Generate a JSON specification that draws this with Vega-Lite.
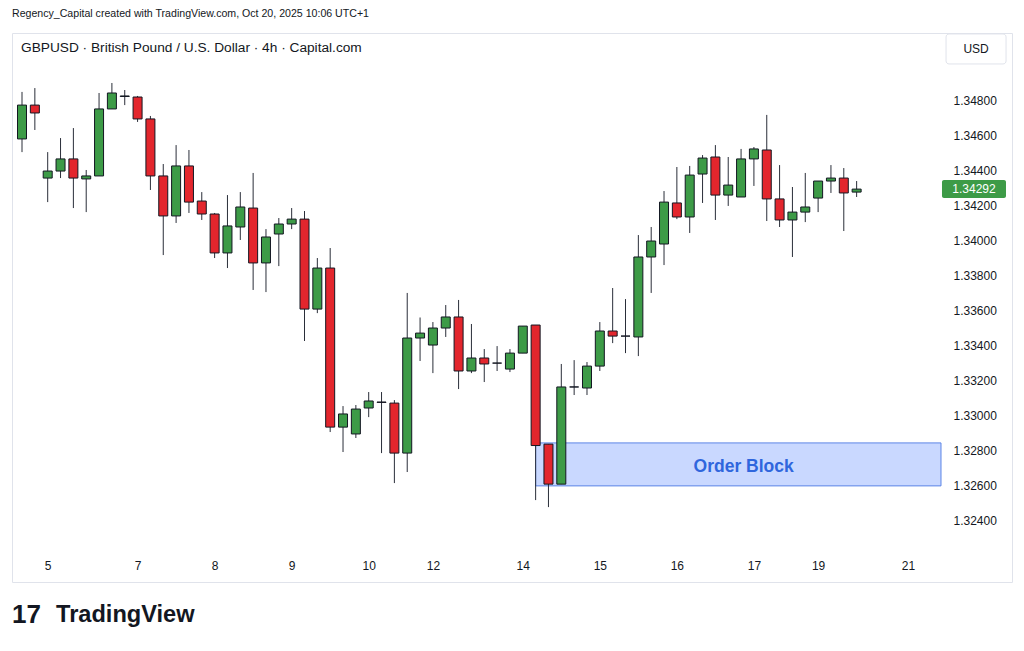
{
  "$schema": "https://vega.github.io/schema/vega-lite/v6.json",
  "width": 1000,
  "height": 549,
  "autosize": {"type": "none"},
  "padding": {"left": 12, "top": 33, "right": 12, "bottom": 69},
  "background": "#ffffff",
  "config": {
    "font": "Liberation Sans",
    "view": {"stroke": "#e0e3eb", "strokeWidth": 1},
    "axis": {"grid": false, "ticks": false, "domain": false, "labelColor": "#131722", "labelFont": "Liberation Sans", "labelFontSize": 12, "title": null}
  },
  "title": {
    "text": "Regency_Capital created with TradingView.com, Oct 20, 2025 10:06 UTC+1",
    "anchor": "start",
    "frame": "group",
    "font": "Liberation Sans",
    "fontSize": 10.6,
    "fontWeight": "normal",
    "color": "#131722",
    "offset": 13
  },
  "datasets": {
    "candles": [
      {"i":0,"o":1.34578,"h":1.34846,"l":1.34503,"c":1.34771},
      {"i":1,"o":1.34771,"h":1.34868,"l":1.34629,"c":1.34726},
      {"i":2,"o":1.34355,"h":1.34503,"l":1.34218,"c":1.34395},
      {"i":3,"o":1.34395,"h":1.34583,"l":1.34355,"c":1.34464},
      {"i":4,"o":1.34464,"h":1.34640,"l":1.34184,"c":1.34355},
      {"i":5,"o":1.34350,"h":1.34401,"l":1.34161,"c":1.34367},
      {"i":6,"o":1.34367,"h":1.34840,"l":1.34367,"c":1.34749},
      {"i":7,"o":1.34749,"h":1.34897,"l":1.34749,"c":1.34840},
      {"i":8,"o":1.34820,"h":1.34857,"l":1.34771,"c":1.34823},
      {"i":9,"o":1.34817,"h":1.34823,"l":1.34675,"c":1.34692},
      {"i":10,"o":1.34692,"h":1.34709,"l":1.34287,"c":1.34367},
      {"i":11,"o":1.34367,"h":1.34435,"l":1.33916,"c":1.34139},
      {"i":12,"o":1.34139,"h":1.34543,"l":1.34099,"c":1.34424},
      {"i":13,"o":1.34424,"h":1.34515,"l":1.34156,"c":1.34218},
      {"i":14,"o":1.34224,"h":1.34275,"l":1.34116,"c":1.34150},
      {"i":15,"o":1.34150,"h":1.34156,"l":1.33899,"c":1.33928},
      {"i":16,"o":1.33928,"h":1.34258,"l":1.33842,"c":1.34082},
      {"i":17,"o":1.34076,"h":1.34275,"l":1.34002,"c":1.34190},
      {"i":18,"o":1.34184,"h":1.34384,"l":1.33717,"c":1.33871},
      {"i":19,"o":1.33871,"h":1.34064,"l":1.33705,"c":1.34019},
      {"i":20,"o":1.34036,"h":1.34127,"l":1.33853,"c":1.34093},
      {"i":21,"o":1.34093,"h":1.34184,"l":1.34064,"c":1.34121},
      {"i":22,"o":1.34121,"h":1.34167,"l":1.33426,"c":1.33608},
      {"i":23,"o":1.33608,"h":1.33899,"l":1.33585,"c":1.33842},
      {"i":24,"o":1.33842,"h":1.33956,"l":1.32907,"c":1.32935},
      {"i":25,"o":1.32935,"h":1.33055,"l":1.32793,"c":1.33010},
      {"i":26,"o":1.32896,"h":1.33061,"l":1.32873,"c":1.33038},
      {"i":27,"o":1.33044,"h":1.33135,"l":1.32992,"c":1.33084},
      {"i":28,"o":1.33078,"h":1.33135,"l":1.32787,"c":1.33076},
      {"i":29,"o":1.33072,"h":1.33089,"l":1.32616,"c":1.32787},
      {"i":30,"o":1.32787,"h":1.33700,"l":1.32679,"c":1.33443},
      {"i":31,"o":1.33443,"h":1.33560,"l":1.33312,"c":1.33471},
      {"i":32,"o":1.33403,"h":1.33534,"l":1.33243,"c":1.33500},
      {"i":33,"o":1.33500,"h":1.33631,"l":1.33449,"c":1.33563},
      {"i":34,"o":1.33563,"h":1.33660,"l":1.33152,"c":1.33255},
      {"i":35,"o":1.33255,"h":1.33523,"l":1.33243,"c":1.33329},
      {"i":36,"o":1.33329,"h":1.33380,"l":1.33192,"c":1.33295},
      {"i":37,"o":1.33300,"h":1.33397,"l":1.33255,"c":1.33300},
      {"i":38,"o":1.33266,"h":1.33380,"l":1.33249,"c":1.33357},
      {"i":39,"o":1.33357,"h":1.33511,"l":1.33357,"c":1.33511},
      {"i":40,"o":1.33517,"h":1.33517,"l":1.32519,"c":1.32830},
      {"i":41,"o":1.32838,"h":1.32838,"l":1.32479,"c":1.32610},
      {"i":42,"o":1.32610,"h":1.33295,"l":1.32610,"c":1.33164},
      {"i":43,"o":1.33164,"h":1.33317,"l":1.33118,"c":1.33164},
      {"i":44,"o":1.33158,"h":1.33306,"l":1.33118,"c":1.33283},
      {"i":45,"o":1.33283,"h":1.33534,"l":1.33255,"c":1.33483},
      {"i":46,"o":1.33483,"h":1.33728,"l":1.33414,"c":1.33454},
      {"i":47,"o":1.33454,"h":1.33665,"l":1.33357,"c":1.33454},
      {"i":48,"o":1.33449,"h":1.34030,"l":1.33340,"c":1.33905},
      {"i":49,"o":1.33905,"h":1.34076,"l":1.33700,"c":1.33996},
      {"i":50,"o":1.33979,"h":1.34281,"l":1.33859,"c":1.34218},
      {"i":51,"o":1.34213,"h":1.34418,"l":1.34121,"c":1.34133},
      {"i":52,"o":1.34133,"h":1.34424,"l":1.34042,"c":1.34372},
      {"i":53,"o":1.34378,"h":1.34486,"l":1.34213,"c":1.34469},
      {"i":54,"o":1.34475,"h":1.34543,"l":1.34116,"c":1.34258},
      {"i":55,"o":1.34258,"h":1.34475,"l":1.34196,"c":1.34315},
      {"i":56,"o":1.34247,"h":1.34521,"l":1.34247,"c":1.34464},
      {"i":57,"o":1.34464,"h":1.34532,"l":1.34310,"c":1.34521},
      {"i":58,"o":1.34515,"h":1.34715,"l":1.34110,"c":1.34236},
      {"i":59,"o":1.34236,"h":1.34429,"l":1.34076,"c":1.34116},
      {"i":60,"o":1.34116,"h":1.34304,"l":1.33905,"c":1.34161},
      {"i":61,"o":1.34161,"h":1.34384,"l":1.34104,"c":1.34190},
      {"i":62,"o":1.34241,"h":1.34338,"l":1.34161,"c":1.34338},
      {"i":63,"o":1.34338,"h":1.34429,"l":1.34270,"c":1.34355},
      {"i":64,"o":1.34355,"h":1.34412,"l":1.34053,"c":1.34270},
      {"i":65,"o":1.34275,"h":1.34338,"l":1.34247,"c":1.34292}
    ]
  },
  "layer": [
    {
      "data": {"values": [{"start": 40, "end": 71.57, "bottom": 1.32600, "top": 1.32845}]},
      "mark": {"type": "rect", "fill": "#2962ff", "fillOpacity": 0.25, "stroke": "#5b84e6", "strokeWidth": 1},
      "encoding": {
        "x": {"field": "start", "type": "quantitative", "scale": {"domain": [-0.78, 77.1], "nice": false, "zero": false, "padding": 0},
          "axis": {"orient": "bottom", "offset": -27, "labelPadding": 5, "values": [2,9,15,21,27,32,39,45,51,57,62,69],
            "labelExpr": "['5','7','8','9','10','12','14','15','16','17','19','21'][indexof([2,9,15,21,27,32,39,45,51,57,62,69], datum.value)]",
            "labelFlush": false, "labelOverlap": false}},
        "x2": {"field": "end"},
        "y": {"field": "bottom", "type": "quantitative", "scale": {"domain": [1.32052, 1.35182], "nice": false, "zero": false, "padding": 0},
          "axis": {"orient": "right", "offset": -72, "labelPadding": 13, "labelAlign": "left",
            "values": [1.324,1.326,1.328,1.330,1.332,1.334,1.336,1.338,1.340,1.342,1.344,1.346,1.348], "format": ".5f"}},
        "y2": {"field": "top"}
      }
    },
    {
      "data": {"values": [{"i": 56.2, "p": 1.32708, "label": "Order Block"}]},
      "mark": {"type": "text", "fontSize": 17.5, "fontWeight": "bold", "color": "#2f66dd", "align": "center", "baseline": "middle"},
      "encoding": {
        "x": {"field": "i", "type": "quantitative"},
        "y": {"field": "p", "type": "quantitative"},
        "text": {"field": "label"}
      }
    },
    {
      "data": {"name": "candles"},
      "mark": {"type": "rule", "color": "#2a2e39", "strokeWidth": 1},
      "encoding": {
        "x": {"field": "i", "type": "quantitative"},
        "y": {"field": "l", "type": "quantitative"},
        "y2": {"field": "h"}
      }
    },
    {
      "data": {"name": "candles"},
      "mark": {"type": "bar", "width": 9, "stroke": "#131722", "strokeWidth": 1},
      "encoding": {
        "x": {"field": "i", "type": "quantitative"},
        "y": {"field": "o", "type": "quantitative"},
        "y2": {"field": "c"},
        "fill": {"condition": {"test": "datum.c >= datum.o", "value": "#3d9b47"}, "value": "#e3262d"}
      }
    },
    {
      "data": {"values": [{"i": -0.08, "p": 1.35096, "label": "GBPUSD · British Pound / U.S. Dollar · 4h · Capital.com"}]},
      "mark": {"type": "text", "fontSize": 13.7, "color": "#131722", "align": "left", "baseline": "middle"},
      "encoding": {
        "x": {"field": "i", "type": "quantitative"},
        "y": {"field": "p", "type": "quantitative"},
        "text": {"field": "label"}
      }
    },
    {
      "data": {"values": [{"i": 74.3, "p": 1.35091, "label": "USD"}]},
      "layer": [
        {"mark": {"type": "rect", "width": 60, "height": 30, "fill": "#ffffff", "stroke": "#e0e3eb", "strokeWidth": 1, "cornerRadius": 3},
         "encoding": {"x": {"field": "i", "type": "quantitative"}, "y": {"field": "p", "type": "quantitative"}}},
        {"mark": {"type": "text", "fontSize": 12, "color": "#131722", "align": "center", "baseline": "middle"},
         "encoding": {"x": {"field": "i", "type": "quantitative"}, "y": {"field": "p", "type": "quantitative"}, "text": {"field": "label"}}}
      ]
    },
    {
      "data": {"values": [{"i": 74.14, "p": 1.34292, "label": "1.34292"}]},
      "layer": [
        {"mark": {"type": "rect", "width": 64, "height": 18, "fill": "#3d9b47", "cornerRadius": 2},
         "encoding": {"x": {"field": "i", "type": "quantitative"}, "y": {"field": "p", "type": "quantitative"}}},
        {"mark": {"type": "text", "fontSize": 12, "color": "#ffffff", "align": "center", "baseline": "middle"},
         "encoding": {"x": {"field": "i", "type": "quantitative"}, "y": {"field": "p", "type": "quantitative"}, "text": {"field": "label"}}}
      ]
    },
    {
      "data": {"values": [{"i": -0.78, "p": 1.31864, "label": "17"}]},
      "mark": {"type": "text", "fontSize": 26, "fontWeight": "bold", "color": "#131722", "align": "left", "baseline": "middle", "letterSpacing": -2},
      "encoding": {
        "x": {"field": "i", "type": "quantitative"},
        "y": {"field": "p", "type": "quantitative"},
        "text": {"field": "label"}
      }
    },
    {
      "data": {"values": [{"i": 2.65, "p": 1.31864, "label": "TradingView"}]},
      "mark": {"type": "text", "fontSize": 23.6, "fontWeight": "bold", "color": "#131722", "align": "left", "baseline": "middle"},
      "encoding": {
        "x": {"field": "i", "type": "quantitative"},
        "y": {"field": "p", "type": "quantitative"},
        "text": {"field": "label"}
      }
    }
  ]
}
